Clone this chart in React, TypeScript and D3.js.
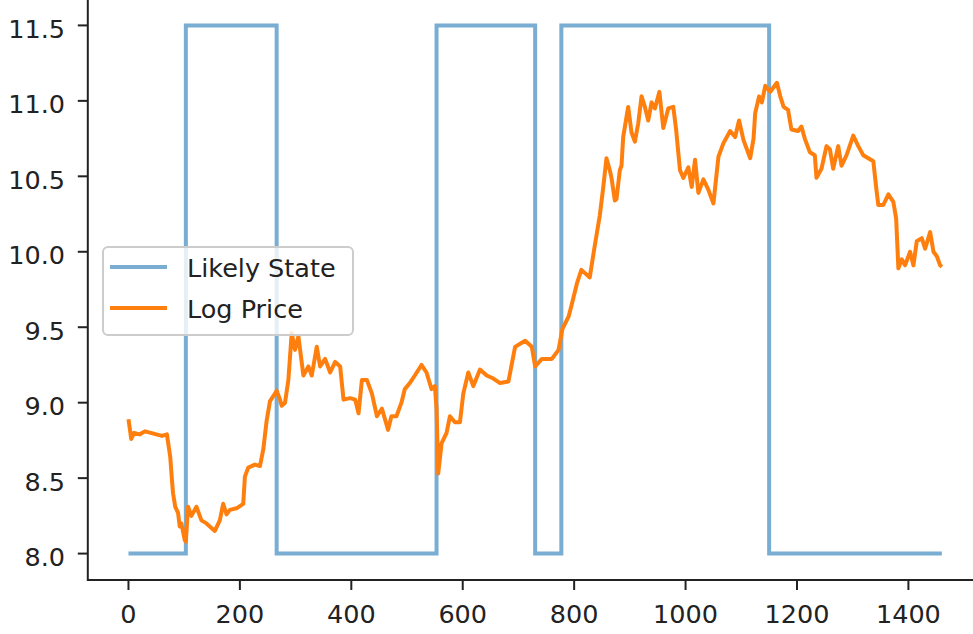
import React, { useEffect, useRef } from 'react';
import * as d3 from 'd3';

// hidden-state regime, drawn as a step line (day where each level starts)
const stateDay = [0, 103, 266, 553, 730, 777, 1150, 1460];
const stateLevel = [8.0, 11.5, 8.0, 11.5, 8.0, 11.5, 8.0, 8.0];

// log price
const priceDay = [0, 5, 10, 20, 30, 40, 50, 60, 69, 75, 78, 80, 84, 89, 92, 95, 101, 103, 107, 113, 122, 131, 140, 146, 155, 164, 170, 176, 182, 194, 206, 209, 215, 227, 236, 242, 248, 254, 263, 266, 272, 275, 281, 287, 293, 299, 305, 314, 323, 329, 338, 344, 353, 362, 371, 380, 386, 398, 407, 413, 419, 428, 437, 446, 455, 466, 472, 481, 490, 496, 505, 514, 526, 535, 544, 550, 553, 556, 562, 571, 577, 586, 595, 601, 610, 619, 631, 643, 655, 667, 682, 694, 703, 712, 724, 730, 742, 760, 772, 779, 790, 795, 805, 813, 828, 837, 846, 852, 858, 864, 867, 873, 876, 882, 885, 888, 897, 903, 909, 915, 921, 927, 933, 939, 945, 953, 960, 969, 978, 983, 990, 996, 1005, 1011, 1017, 1023, 1032, 1041, 1050, 1059, 1068, 1080, 1089, 1096, 1104, 1116, 1122, 1125, 1132, 1137, 1143, 1152, 1164, 1170, 1176, 1184, 1190, 1202, 1208, 1214, 1223, 1232, 1235, 1244, 1253, 1259, 1265, 1274, 1280, 1289, 1301, 1310, 1319, 1328, 1337, 1343, 1346, 1355, 1364, 1373, 1378, 1382, 1388, 1394, 1403, 1409, 1415, 1424, 1430, 1439, 1445, 1451, 1457, 1460];
const priceLog = [8.89, 8.76, 8.80, 8.79, 8.81, 8.80, 8.79, 8.78, 8.79, 8.64, 8.49, 8.40, 8.31, 8.27, 8.18, 8.20, 8.09, 8.08, 8.31, 8.25, 8.31, 8.22, 8.20, 8.18, 8.15, 8.22, 8.33, 8.26, 8.29, 8.30, 8.33, 8.51, 8.57, 8.59, 8.58, 8.69, 8.88, 9.01, 9.06, 9.08, 9.02, 8.98, 9.00, 9.15, 9.46, 9.35, 9.44, 9.18, 9.24, 9.18, 9.37, 9.24, 9.29, 9.20, 9.27, 9.24, 9.02, 9.03, 9.02, 8.93, 9.15, 9.15, 9.06, 8.91, 8.96, 8.82, 8.91, 8.91, 9.00, 9.09, 9.13, 9.18, 9.25, 9.20, 9.09, 9.11, 8.96, 8.53, 8.73, 8.80, 8.91, 8.87, 8.87, 9.06, 9.20, 9.11, 9.22, 9.18, 9.16, 9.13, 9.14, 9.37, 9.39, 9.41, 9.37, 9.24, 9.29, 9.29, 9.35, 9.49, 9.57, 9.64, 9.79, 9.88, 9.83, 10.04, 10.24, 10.42, 10.62, 10.54, 10.49, 10.34, 10.35, 10.54, 10.57, 10.76, 10.96, 10.79, 10.73, 10.85, 11.03, 10.96, 10.87, 10.99, 10.95, 11.06, 10.82, 10.95, 10.96, 10.81, 10.54, 10.49, 10.56, 10.43, 10.61, 10.39, 10.48, 10.41, 10.32, 10.63, 10.72, 10.80, 10.76, 10.87, 10.74, 10.62, 10.75, 10.92, 11.03, 10.99, 11.10, 11.06, 11.12, 11.03, 10.96, 10.94, 10.81, 10.80, 10.83, 10.75, 10.66, 10.64, 10.49, 10.55, 10.70, 10.68, 10.55, 10.70, 10.57, 10.64, 10.77, 10.70, 10.64, 10.62, 10.60, 10.40, 10.31, 10.31, 10.38, 10.33, 10.22, 9.89, 9.95, 9.91, 10.0, 9.91, 10.07, 10.09, 10.02, 10.13, 10.0, 9.97, 9.91, 9.90];

const xTicks = [0, 200, 400, 600, 800, 1000, 1200, 1400];
const yTicks = [8.0, 8.5, 9.0, 9.5, 10.0, 10.5, 11.0, 11.5];
const seriesNames = ['Likely State', 'Log Price'];

const W = 973;
const H = 634;
const FONT = '"DejaVu Sans", sans-serif';
const FS = 25.5;

export default function App() {
    const ref = useRef<SVGSVGElement>(null);

    useEffect(() => {
        const svg = d3.select(ref.current);
        svg.selectAll('*').remove();

        // same 5% padding matplotlib puts around the data
        const x = d3.scaleLinear().domain([-73, 1533]).range([87.8, 982.5]);
        const y = d3.scaleLinear().domain([7.825, 11.675]).range([580, -1]);

        const blue = '#1f77b4';
        const orange = '#ff7f0e';

        const stateData = stateDay.map((d, i) => [d, stateLevel[i]] as [number, number]);
        const priceData = priceDay.map((d, i) => [d, priceLog[i]] as [number, number]);

        const stepLine = d3.line<[number, number]>()
            .x(d => x(d[0]))
            .y(d => y(d[1]))
            .curve(d3.curveStepAfter);
        const line = d3.line<[number, number]>()
            .x(d => x(d[0]))
            .y(d => y(d[1]));

        svg.append('path')
            .attr('d', stepLine(stateData))
            .attr('fill', 'none')
            .attr('stroke', blue)
            .attr('stroke-opacity', 0.6)
            .attr('stroke-width', 4);

        svg.append('path')
            .attr('d', line(priceData))
            .attr('fill', 'none')
            .attr('stroke', orange)
            .attr('stroke-width', 4)
            .attr('stroke-linejoin', 'round');

        // spines
        const x0 = x.range()[0], x1 = x.range()[1];
        const y0 = y.range()[0], y1 = y.range()[1];
        svg.append('rect')
            .attr('x', x0).attr('y', y1)
            .attr('width', x1 - x0).attr('height', y0 - y1)
            .attr('fill', 'none')
            .attr('stroke', '#222')
            .attr('stroke-width', 2);

        // x axis
        const gx = svg.append('g');
        gx.selectAll('line')
            .data(xTicks)
            .enter()
            .append('line')
            .attr('x1', d => x(d)).attr('x2', d => x(d))
            .attr('y1', y0).attr('y2', y0 + 10)
            .attr('stroke', '#222').attr('stroke-width', 2);
        gx.selectAll('text')
            .data(xTicks)
            .enter()
            .append('text')
            .attr('x', d => x(d))
            .attr('y', 623)
            .attr('text-anchor', 'middle')
            .style('font-family', FONT)
            .style('font-size', FS + 'px')
            .attr('fill', '#222')
            .text(d => d);

        // y axis
        const gy = svg.append('g');
        gy.selectAll('line')
            .data(yTicks)
            .enter()
            .append('line')
            .attr('x1', x0 - 10).attr('x2', x0)
            .attr('y1', d => y(d)).attr('y2', d => y(d))
            .attr('stroke', '#222').attr('stroke-width', 2);
        gy.selectAll('text')
            .data(yTicks)
            .enter()
            .append('text')
            .attr('x', 65)
            .attr('y', d => y(d) + 12.5)
            .attr('text-anchor', 'end')
            .style('font-family', FONT)
            .style('font-size', FS + 'px')
            .attr('fill', '#222')
            .text(d => d.toFixed(1));

        // legend
        const lg = svg.append('g');
        lg.append('rect')
            .attr('x', 103).attr('y', 247)
            .attr('width', 250).attr('height', 88)
            .attr('rx', 5)
            .attr('fill', 'white').attr('fill-opacity', 0.8)
            .attr('stroke', '#cccccc').attr('stroke-width', 2);
        const colors = [blue, orange];
        const opac = [0.6, 1];
        seriesNames.forEach((name, i) => {
            const cy = 267 + i * 41;
            lg.append('line')
                .attr('x1', 110).attr('x2', 167)
                .attr('y1', cy).attr('y2', cy)
                .attr('stroke', colors[i])
                .attr('stroke-opacity', opac[i])
                .attr('stroke-width', 4);
            lg.append('text')
                .attr('x', 187).attr('y', cy + 10)
                .style('font-family', FONT)
                .style('font-size', FS + 'px')
                .attr('fill', '#222')
                .text(name);
        });
    }, []);

    return (
        <div style={{ position: 'absolute', left: 0, top: 0 }}>
            <svg ref={ref} width={W} height={H} style={{ display: 'block', background: 'white' }} />
        </div>
    );
}
